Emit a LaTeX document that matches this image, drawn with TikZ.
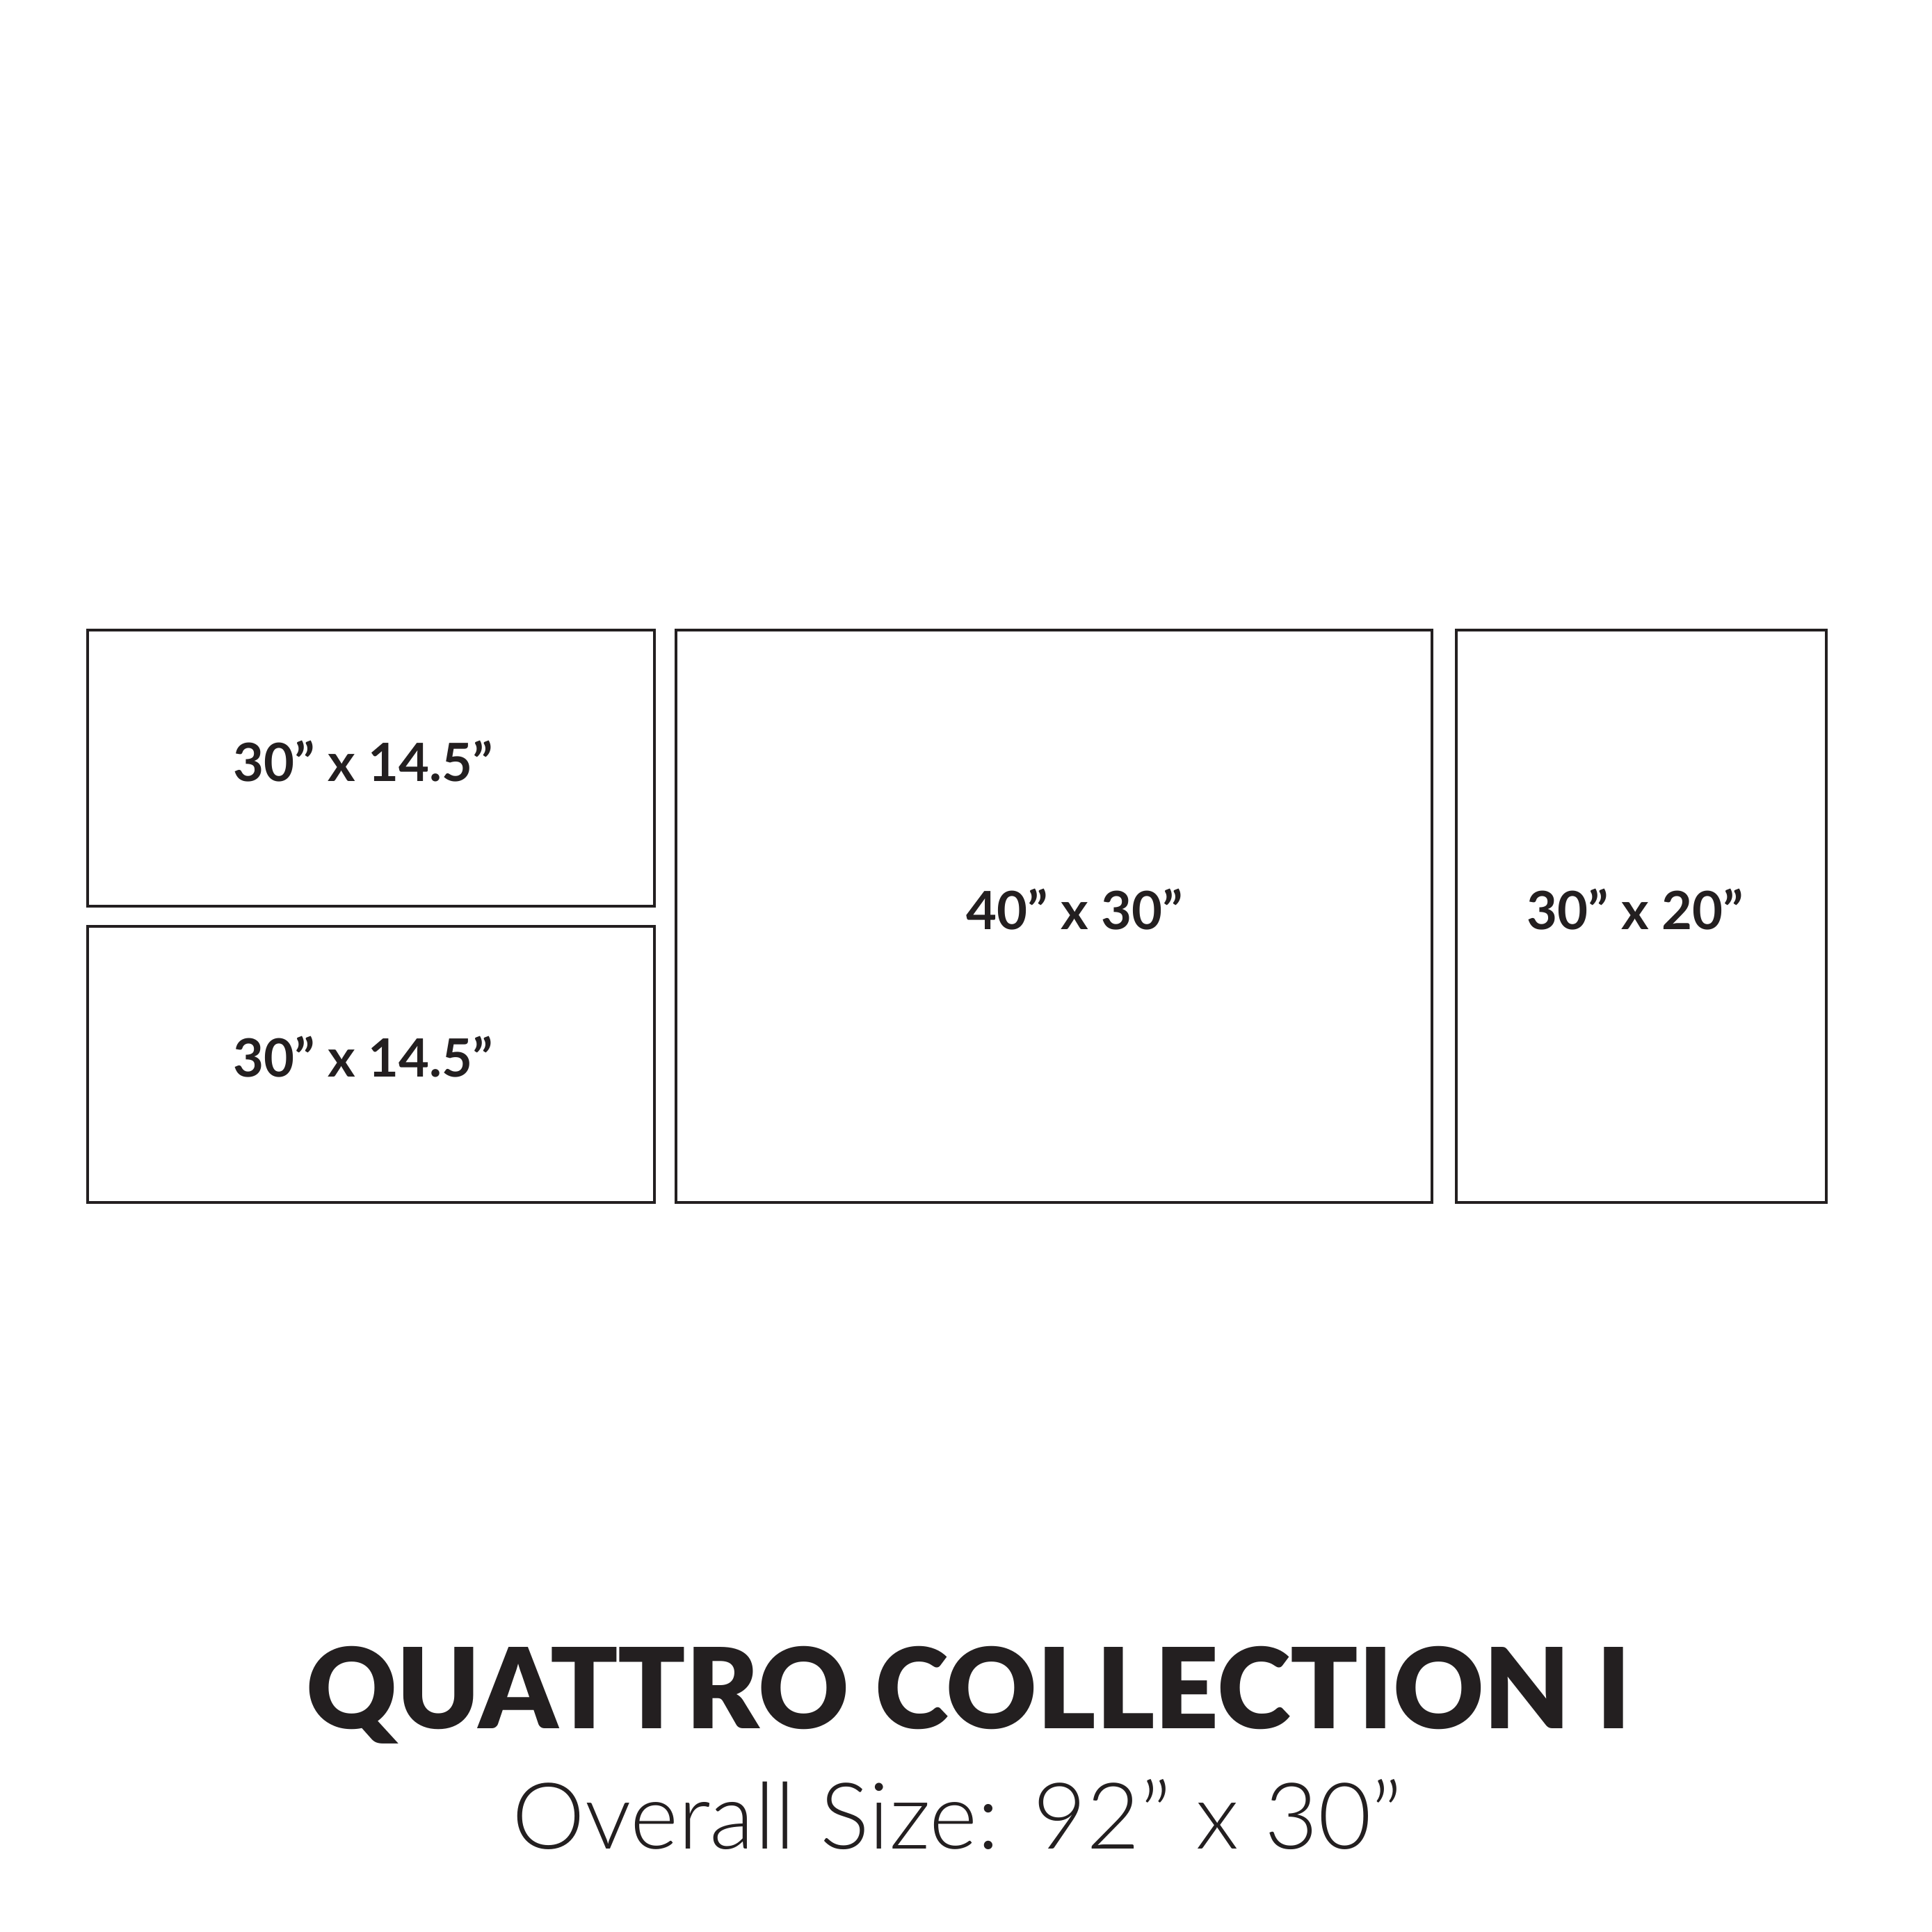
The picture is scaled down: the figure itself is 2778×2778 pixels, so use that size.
\documentclass[tikz,border=0pt]{standalone}
\usepackage{fontspec}
\usepackage{xcolor}
\usepackage{tikz}
\definecolor{ink}{HTML}{231F20}
\newfontfamily\labelfont{Lato Bold}
\newfontfamily\titlefont{Lato Black}
\newfontfamily\sublightfont{Lato Light}
\newlength\pxu
\setlength\pxu{0.0075cm}
\begin{document}
\begin{tikzpicture}[x=\pxu,y=-\pxu,panel/.style n args={2}{draw=ink,line width=0.85pt,rectangle,inner sep=0pt,outer sep=0pt,minimum width=#1\pxu,minimum height=#2\pxu,anchor=north west},sizelbl/.style={font=\labelfont\fontsize{16.2}{17}\selectfont,text=ink,anchor=base,inner sep=0pt},titletxt/.style={font=\titlefont\fontsize{34.3}{35}\selectfont,text=ink,anchor=base,inner sep=0pt},subtxt/.style={font=\sublightfont\fontsize{28.3}{29}\selectfont,text=ink,anchor=base,inner sep=0pt}]
\fill[white] (0,0) rectangle (2778,2778);
\useasboundingbox (0,0) rectangle (2778,2778);
% the four canvases
\foreach \n/\x/\y/\w/\h in %
{pA/126/906/814.8/397.3,pB/126/1331.7/814.8/397.3,pC/971.8/906/1087.4/823,pD/2094/906/531.5/823} {
   \node[panel={\w}{\h}] (\n) at (\x,\y) {};
}
\foreach \n/\x/\y/\t in %
{lA/522/1123/30” x 14.5”,lB/522/1548.7/30” x 14.5”,lC/1545/1336/40” x 30”,lD/2351/1336/30” x 20”} {
   \node[sizelbl] (\n) at (\x,\y) {\t};
}
\node[titletxt] (title) at (1392.6,2485) {QUATTRO COLLECTION I};
\node[subtxt] (overall) at (1376.5,2658) {Overall Size: 92” x 30”};
\end{tikzpicture}
\end{document}
